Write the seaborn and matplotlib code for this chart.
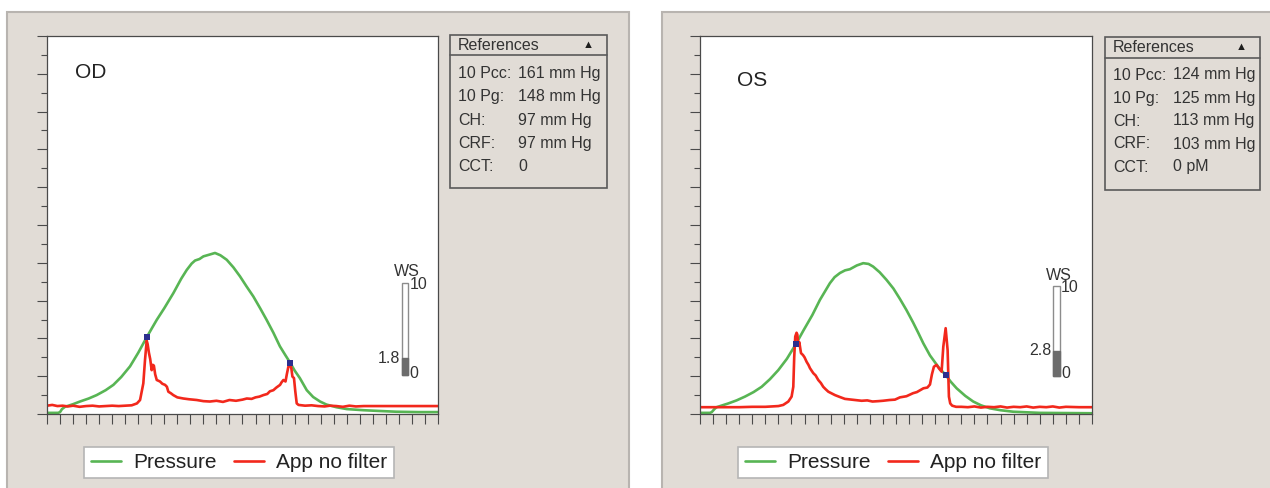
"""
plot.py
-------
Two tonometry signal panels (OD / OS): applanation pressure curve plus
unfiltered applanation signal, with the reference table and WS gauge.
Run: python plot.py
"""

import matplotlib
matplotlib.use("Agg")
import matplotlib.pyplot as plt
from matplotlib.patches import Rectangle
from matplotlib.ticker import MultipleLocator
import pandas as pd
import seaborn as sns

# -------------------------------------------------------------------
# Data (x in tick divisions 0..30, y in tick divisions 0..10)
# -------------------------------------------------------------------
eye_labels = ["OD", "OS"]
legend_labels = ["Pressure", "App no filter"]

od_pressure_x = [
    0, 0.85, 1.0, 1.15, 1.38, 2.0, 2.53, 3.2, 3.81, 4.5,
    5.09, 5.7, 6.37, 7.0, 7.65, 8.1, 8.42, 9.0, 9.7, 10.3,
    10.72, 11.1, 11.36, 11.7, 12.0, 12.5, 12.89, 13.3, 13.79, 14.3,
    14.81, 15.3, 15.83, 16.35, 16.85, 17.37, 17.87, 18.3, 18.65, 19.0,
    19.4, 19.93, 20.42, 20.95, 21.44, 22.2, 23.0, 24.3, 25.5, 26.8,
    28.5, 30.0,
]
od_pressure_y = [
    0.03, 0.03, 0.05, 0.13, 0.19, 0.26, 0.33, 0.41, 0.50, 0.63,
    0.77, 0.98, 1.26, 1.62, 2.03, 2.30, 2.49, 2.80, 3.20, 3.58,
    3.81, 3.98, 4.06, 4.10, 4.17, 4.22, 4.26, 4.20, 4.08, 3.88,
    3.64, 3.38, 3.11, 2.80, 2.49, 2.15, 1.79, 1.55, 1.36, 1.15,
    0.95, 0.63, 0.45, 0.33, 0.25, 0.18, 0.13, 0.10, 0.08, 0.06,
    0.05, 0.05,
]
od_app_x = [
    0, 0.4, 0.8, 1.2, 1.6, 2.0, 2.5, 3.0, 3.5, 4.0,
    4.5, 5.0, 5.5, 6.0, 6.5, 6.9, 7.14, 7.39, 7.52, 7.65,
    7.72, 7.82, 7.92, 8.03, 8.12, 8.20, 8.30, 8.42, 8.67, 8.85,
    9.06, 9.20, 9.31, 9.50, 9.69, 10.0, 10.46, 10.9, 11.49, 12.0,
    12.5, 13.0, 13.5, 14.0, 14.5, 15.0, 15.33, 15.7, 16.0, 16.3,
    16.6, 16.9, 17.1, 17.37, 17.6, 17.88, 18.0, 18.14, 18.3, 18.4,
    18.52, 18.65, 18.75, 18.83, 18.95, 19.05, 19.16, 19.3, 19.8, 20.3,
    20.8, 21.3, 21.7, 22.2, 22.7, 23.2, 23.7, 24.3, 25.0, 30.0,
]
od_app_y = [
    0.22, 0.24, 0.21, 0.22, 0.20, 0.22, 0.19, 0.21, 0.22, 0.20,
    0.21, 0.22, 0.21, 0.22, 0.23, 0.28, 0.37, 0.81, 1.43, 1.94,
    1.85, 1.62, 1.45, 1.16, 1.30, 1.28, 1.05, 0.90, 0.86, 0.80,
    0.77, 0.72, 0.59, 0.55, 0.50, 0.44, 0.41, 0.39, 0.37, 0.34,
    0.33, 0.35, 0.32, 0.37, 0.35, 0.38, 0.41, 0.40, 0.44, 0.46,
    0.50, 0.53, 0.60, 0.63, 0.70, 0.77, 0.84, 0.90, 0.86, 1.05,
    1.25, 1.33, 1.20, 0.99, 0.95, 0.60, 0.28, 0.24, 0.22, 0.23,
    0.21, 0.20, 0.22, 0.21, 0.19, 0.22, 0.20, 0.21, 0.21, 0.21,
]
od_marker_x = [7.65, 18.65]
od_marker_y = [2.03, 1.36]

os_pressure_x = [
    0, 0.76, 0.9, 1.1, 1.27, 2.17, 2.8, 3.44, 4.1, 4.72,
    5.35, 5.99, 6.65, 7.34, 7.9, 8.6, 9.18, 9.94, 10.3, 10.71,
    11.1, 11.47, 12.0, 12.49, 12.9, 13.25, 13.75, 14.27, 14.8, 15.29,
    15.8, 16.31, 16.7, 17.09, 17.6, 18.23, 18.8, 19.2, 19.64, 20.3,
    20.91, 21.5, 22.19, 23.0, 23.97, 26.0, 30.0,
]
os_pressure_y = [
    0.03, 0.03, 0.05, 0.13, 0.18, 0.28, 0.36, 0.46, 0.58, 0.72,
    0.92, 1.16, 1.46, 1.85, 2.20, 2.62, 3.02, 3.46, 3.62, 3.73,
    3.80, 3.83, 3.93, 3.99, 3.97, 3.90, 3.75, 3.55, 3.32, 3.05,
    2.75, 2.42, 2.15, 1.87, 1.55, 1.25, 1.03, 0.85, 0.68, 0.48,
    0.33, 0.23, 0.15, 0.10, 0.06, 0.03, 0.02,
]
os_app_x = [
    0, 1.0, 2.0, 3.0, 4.0, 5.0, 5.5, 6.0, 6.37, 6.76,
    7.01, 7.14, 7.21, 7.29, 7.39, 7.45, 7.52, 7.60, 7.73, 7.88,
    8.0, 8.16, 8.3, 8.42, 8.67, 8.85, 9.05, 9.25, 9.43, 9.6,
    9.82, 10.33, 10.7, 11.09, 11.6, 12.37, 12.8, 13.2, 13.64, 14.0,
    14.5, 14.92, 15.3, 15.8, 16.3, 16.6, 17.1, 17.4, 17.6, 17.75,
    17.9, 18.1, 18.3, 18.49, 18.62, 18.8, 18.95, 19.05, 19.15, 19.3,
    19.6, 20.0, 20.5, 21.0, 21.5, 22.0, 22.5, 23.0, 23.5, 24.0,
    24.5, 25.0, 25.5, 26.0, 26.5, 27.0, 27.5, 28.0, 29.0, 30.0,
]
os_app_y = [
    0.18, 0.18, 0.18, 0.18, 0.19, 0.19, 0.20, 0.21, 0.24, 0.33,
    0.46, 0.72, 1.50, 2.05, 2.15, 2.10, 1.83, 1.90, 1.61, 1.56,
    1.50, 1.38, 1.30, 1.21, 1.08, 1.02, 0.90, 0.82, 0.72, 0.66,
    0.59, 0.50, 0.45, 0.40, 0.38, 0.35, 0.36, 0.33, 0.34, 0.35,
    0.37, 0.38, 0.44, 0.47, 0.55, 0.58, 0.68, 0.70, 0.78, 1.05,
    1.25, 1.30, 1.20, 1.12, 1.78, 2.27, 1.69, 0.46, 0.28, 0.22,
    0.19, 0.19, 0.18, 0.20, 0.17, 0.19, 0.18, 0.20, 0.17, 0.19,
    0.18, 0.20, 0.17, 0.19, 0.18, 0.20, 0.17, 0.19, 0.18, 0.18,
]
os_marker_x = [7.34, 18.8]
os_marker_y = [1.85, 1.03]

ref_labels = ["10 Pcc:", "10 Pg:", "CH:", "CRF:", "CCT:"]
od_ref_values = ["161 mm Hg", "148 mm Hg", "97 mm Hg", "97 mm Hg", "0"]
os_ref_values = ["124 mm Hg", "125 mm Hg", "113 mm Hg", "103 mm Hg", "0 pM"]

ws_values = [1.8, 2.8]
ws_max = 10

# -------------------------------------------------------------------
# Style
# -------------------------------------------------------------------
W, H = 1270, 488
PANEL      = "#e1dcd6"
PANEL_EDGE = "#b8b4b0"
SPINE      = "#4a4a4a"
BOX_EDGE   = "#5a5a5a"
TEXT       = "#333333"
GREEN      = "#58b554"
RED        = "#f2281c"
NAVY       = "#2c2f8e"
LW         = 1.9

sns.set_theme(style="white")
plt.rcParams["font.family"] = ["Liberation Sans", "DejaVu Sans"]

fig = plt.figure(figsize=(W / 100, H / 100), dpi=100)

# pixel-coordinate background layer
bg = fig.add_axes([0, 0, 1, 1], zorder=0)
bg.set_xlim(0, W)
bg.set_ylim(H, 0)
bg.axis("off")

# pixel-coordinate foreground layer (gauge, eye label)
fg = fig.add_axes([0, 0, 1, 1], zorder=10)
fg.set_xlim(0, W)
fg.set_ylim(H, 0)
fg.axis("off")
fg.patch.set_alpha(0)


def add_px_axes(x0, y0, x1, y1, **kw):
    return fig.add_axes([x0 / W, 1 - y1 / H, (x1 - x0) / W, (y1 - y0) / H], **kw)


def draw_signals(ax, px, py, ax_, ay, mx, my):
    sns.lineplot(data=pd.DataFrame({"x": px, "y": py}), x="x", y="y", ax=ax,
                 color=GREEN, lw=LW, label=legend_labels[0], sort=False, estimator=None)
    sns.lineplot(data=pd.DataFrame({"x": ax_, "y": ay}), x="x", y="y", ax=ax,
                 color=RED, lw=LW, label=legend_labels[1], sort=False, estimator=None)
    for line in ax.get_lines():
        line.set_solid_joinstyle("round")
    sns.scatterplot(x=mx, y=my, ax=ax, marker="s", color=NAVY, s=20,
                    linewidth=0, zorder=5, legend=False)
    ax.set_xlim(0, 30)
    ax.set_ylim(0, 10)
    ax.set(xlabel="", ylabel="")
    ax.set_facecolor("white")
    ax.xaxis.set_major_locator(MultipleLocator(1))
    ax.yaxis.set_major_locator(MultipleLocator(1))
    ax.yaxis.set_minor_locator(MultipleLocator(0.5))
    ax.tick_params(which="both", direction="out", colors=SPINE,
                   labelbottom=False, labelleft=False,
                   bottom=True, left=True, top=False, right=False)
    ax.tick_params(which="major", length=7, width=0.8)
    ax.tick_params(which="minor", length=4, width=0.8)
    for s in ax.spines.values():
        s.set_color(SPINE)
        s.set_linewidth(0.9)


def draw_legend(ax, cx, cy):
    handles, labels = ax.get_legend_handles_labels()
    leg = ax.legend(handles, labels, loc="center",
                    bbox_to_anchor=(cx / W, 1 - cy / H), bbox_transform=fig.transFigure,
                    ncol=2, frameon=True, fancybox=False, edgecolor="#b5b5b5",
                    facecolor="white", framealpha=1, fontsize=15,
                    handlelength=1.45, handletextpad=0.6, columnspacing=0.8,
                    borderpad=0.3, borderaxespad=0)
    leg.get_frame().set_linewidth(1.2)
    for t in leg.get_texts():
        t.set_color("#222222")


def draw_refs(x0, y0, x1, y1, head_y, row0, step, values):
    bg.add_patch(Rectangle((x0, y0), x1 - x0, y1 - y0, fill=False,
                           edgecolor=BOX_EDGE, lw=1.2))
    bg.plot([x0, x1], [head_y, head_y], color=BOX_EDGE, lw=1.2)
    hy = (y0 + head_y) / 2
    bg.text(x0 + 8, hy, "References", ha="left", va="center", fontsize=11.5, color=TEXT)
    bg.text(x1 - 19, hy, "▲", ha="center", va="center", fontsize=8, color="#1e1e1e")
    for i, (lab, val) in enumerate(zip(ref_labels, values)):
        y = row0 + i * step
        bg.text(x0 + 8, y, lab, ha="left", va="center", fontsize=11.5, color=TEXT)
        bg.text(x0 + 68, y, val, ha="left", va="center", fontsize=11.5, color=TEXT)


def draw_ws(x0, y0, x1, y1, value):
    fg.add_patch(Rectangle((x0, y0), x1 - x0, y1 - y0, facecolor="white",
                           edgecolor="#8c8c8c", lw=1.0))
    fill_top = y1 - (y1 - y0) * value / ws_max
    fg.add_patch(Rectangle((x0, fill_top), x1 - x0, y1 - fill_top,
                           facecolor="#6c6c6c", edgecolor="#6c6c6c", lw=1.0))
    kw = dict(fontsize=11.5, color=TEXT)
    fg.text((x0 + x1) / 2 + 2, y0 - 11, "WS", ha="center", va="center", **kw)
    fg.text(x1 + 1, y0 + 2, f"{ws_max}", ha="left", va="center", **kw)
    fg.text(x1 + 1, y1 - 2, "0", ha="left", va="center", **kw)
    fg.text(x0 - 2, fill_top, f"{value}", ha="right", va="center", **kw)


# -------------------------------------------------------------------
# Panels
# -------------------------------------------------------------------
bg.add_patch(Rectangle((7, 12), 622, 490, facecolor=PANEL, edgecolor=PANEL_EDGE, lw=1.5))
bg.add_patch(Rectangle((662, 12), 620, 490, facecolor=PANEL, edgecolor=PANEL_EDGE, lw=1.5))

# OD
ax_od = add_px_axes(47, 36, 438, 414, zorder=2)
draw_signals(ax_od, od_pressure_x, od_pressure_y, od_app_x, od_app_y, od_marker_x, od_marker_y)
draw_legend(ax_od, 239, 462.5)
draw_refs(450, 35, 607, 188, 55, 73.5, 23.3, od_ref_values)
draw_ws(401.7, 282.7, 408.3, 375, ws_values[0])
fg.text(75, 73, eye_labels[0], ha="left", va="center", fontsize=15, color="#222222")

# OS
ax_os = add_px_axes(700, 36, 1092, 414, zorder=2)
draw_signals(ax_os, os_pressure_x, os_pressure_y, os_app_x, os_app_y, os_marker_x, os_marker_y)
draw_legend(ax_os, 893, 462.5)
draw_refs(1105, 37, 1260, 190, 58, 75, 23, os_ref_values)
draw_ws(1053.3, 286, 1060, 376, ws_values[1])
fg.text(737, 80, eye_labels[1], ha="left", va="center", fontsize=15, color="#222222")

fig.savefig("out.png", dpi=100)
plt.close(fig)
